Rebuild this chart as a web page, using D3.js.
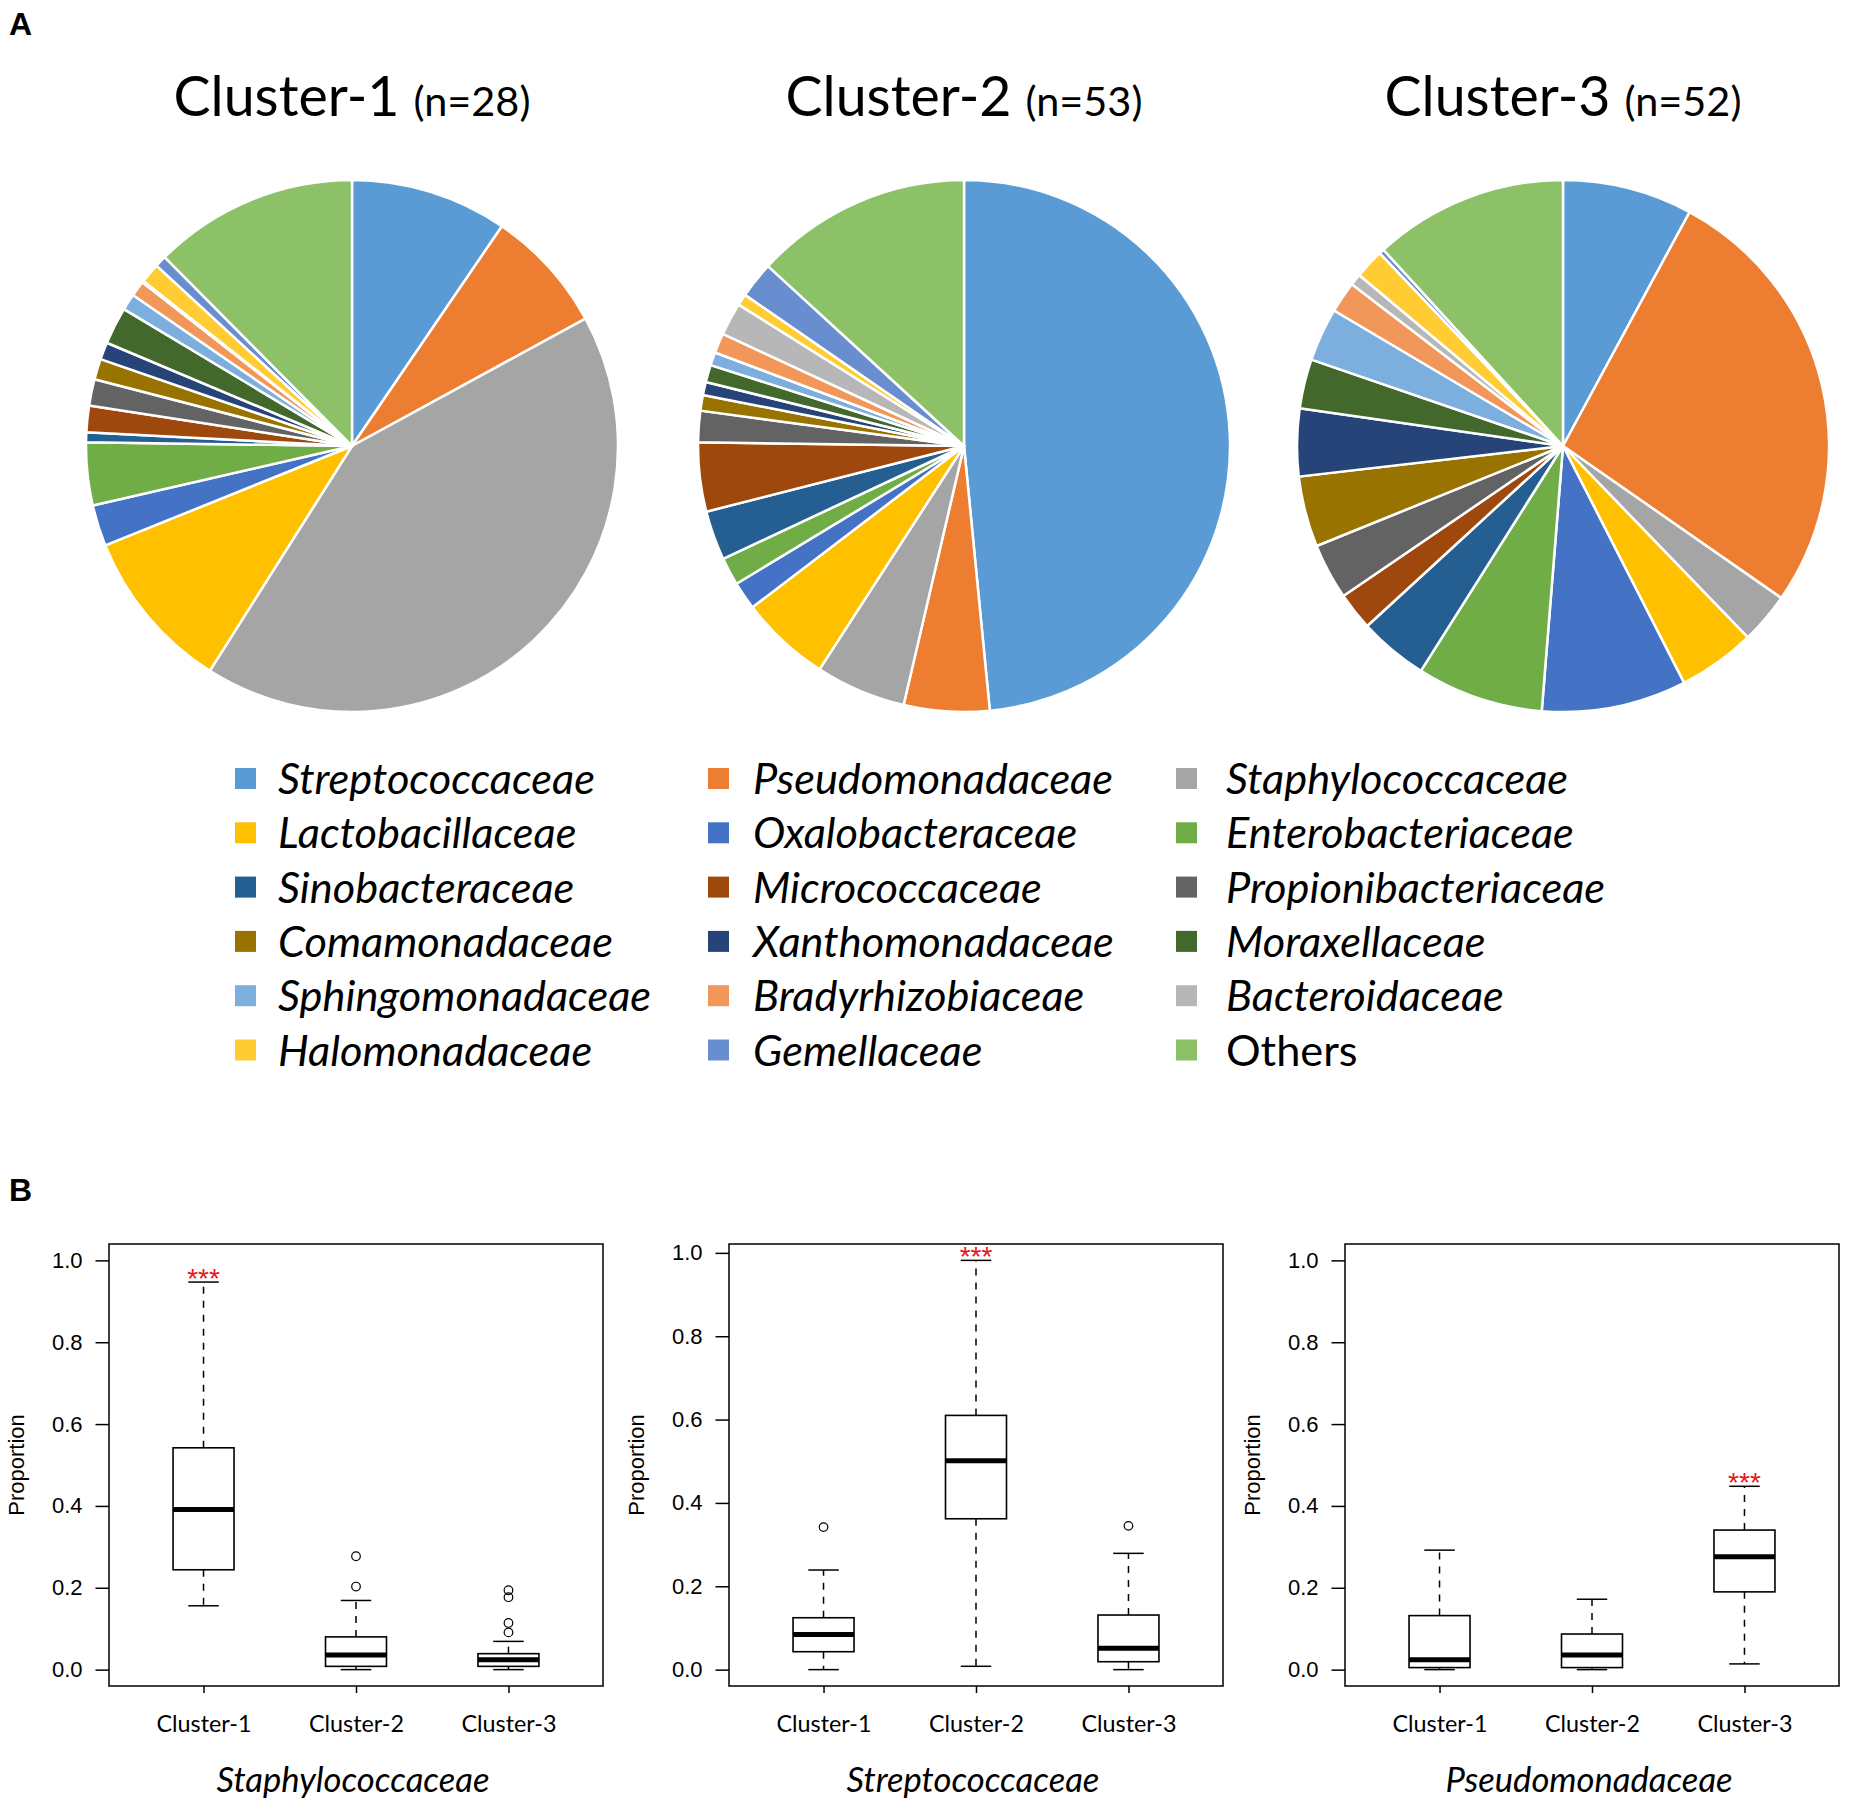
<!DOCTYPE html>
<html>
<head>
<meta charset="utf-8">
<script src="https://cdn.jsdelivr.net/npm/d3@7"></script>
<style>
  body { margin: 0; background: #fff; }
  svg { display: block; }
</style>
</head>
<body>
<svg id="fig" width="1850" height="1811"></svg>
<script>
// ---- data -------------------------------------------------------------
const families = [
  'Streptococcaceae', 'Pseudomonadaceae', 'Staphylococcaceae',
  'Lactobacillaceae', 'Oxalobacteraceae', 'Enterobacteriaceae',
  'Sinobacteraceae', 'Micrococcaceae', 'Propionibacteriaceae',
  'Comamonadaceae', 'Xanthomonadaceae', 'Moraxellaceae',
  'Sphingomonadaceae', 'Bradyrhizobiaceae', 'Bacteroidaceae',
  'Halomonadaceae', 'Gemellaceae', 'Others',
];

const familyColors = [
  '#5b9bd5', '#ed7d31', '#a5a5a5', '#ffc000', '#4472c4', '#70ad47',
  '#255e91', '#9e480e', '#636363', '#997300', '#264478', '#43682b',
  '#7cafdd', '#f1975a', '#b7b7b7', '#ffcd33', '#698ed0', '#8cc168',
];

const clusterNames = ['Cluster-1', 'Cluster-2', 'Cluster-3'];
const clusterN = [28, 53, 52];

// percent of reads per family, same order as `families`
const cluster1Share = [9.5, 7.5, 41.8, 9.9, 2.5, 3.8, 0.6, 1.6, 1.6, 1.25, 1.05, 2.25, 1.0, 0.95, 0.1, 1.2, 0.7, 12.4];
const cluster2Share = [48.5, 5.2, 5.5, 5.5, 1.7, 1.7, 3.0, 4.2, 1.9, 0.95, 0.8, 1.05, 0.8, 1.2, 2.0, 0.7, 2.2, 13.2];
const cluster3Share = [7.9, 26.8, 3.1, 4.7, 8.8, 7.7, 4.2, 2.3, 3.4, 4.3, 4.1, 3.0, 3.25, 1.9, 0.7, 1.8, 0.3, 11.8];

// boxplot stats per cluster: [lower whisker, Q1, median, Q3, upper whisker]
const staphStats = [[0.156, 0.244, 0.391, 0.542, 0.947], [0, 0.008, 0.036, 0.080, 0.169], [0, 0.008, 0.024, 0.039, 0.069]];
const staphOutliers = [[], [0.203, 0.277], [0.091, 0.114, 0.177, 0.194]];
const strepStats = [[0, 0.043, 0.084, 0.1245, 0.239], [0.008, 0.362, 0.501, 0.610, 0.982], [0, 0.019, 0.051, 0.131, 0.279]];
const strepOutliers = [[0.342], [], [0.345]];
const pseudoStats = [[0, 0.005, 0.024, 0.132, 0.292], [0, 0.005, 0.036, 0.087, 0.172], [0.014, 0.190, 0.276, 0.341, 0.448]];
const pseudoOutliers = [[], [], []];

const panelTitles = ['Staphylococcaceae', 'Streptococcaceae', 'Pseudomonadaceae'];
const panelYLimits = [[0, 1], [0, 0.982], [0, 1]];
const panelStarGroup = [0, 1, 2];
const yTicks = [0, 0.2, 0.4, 0.6, 0.8, 1.0];

// ---- layout -----------------------------------------------------------
const SANS = "Lato, 'Open Sans', sans-serif";
const ARIAL = "'Liberation Sans', Arial, sans-serif";

const svg = d3.select('#fig');

const PIE = { cx: [352, 964, 1563], cy: 446, r: 266, titleY: 116 };
const LEGEND = { markX: [235, 708, 1176], textX: [278, 753, 1226], y0: 778.5, dy: 54.3, mark: 21 };
const BOX = { left: [109, 729, 1345], width: 494, top: 1244, bottom: 1686 };

// font size that makes `str` span `target` px
function fitSize(str, target, family, style) {
  const t = svg.append('text')
    .attr('font-family', family)
    .attr('font-style', style || 'normal')
    .attr('font-size', 100)
    .text(str);
  const w = t.node().getComputedTextLength();
  t.remove();
  return 100 * target / w;
}

const titleSize = fitSize('Cluster-1', 226, SANS);
const nSize = fitSize('(n=28)', 117, SANS);
const legendSize = fitSize('Streptococcaceae', 317, SANS, 'italic');
const groupSize = fitSize('Cluster-1', 95, SANS);
const panelTitleSize = fitSize('Staphylococcaceae', 273, SANS, 'italic');

// panel letters
svg.append('text').attr('x', 9).attr('y', 35)
  .attr('font-family', ARIAL).attr('font-weight', 'bold').attr('font-size', 32).text('A');
svg.append('text').attr('x', 9).attr('y', 1201)
  .attr('font-family', ARIAL).attr('font-weight', 'bold').attr('font-size', 32).text('B');

// ---- A: pies ----------------------------------------------------------
const pie = d3.pie().sort(null).value((d) => d);
const arc = d3.arc().innerRadius(0).outerRadius(PIE.r);

[cluster1Share, cluster2Share, cluster3Share].forEach((shares, i) => {
  const g = svg.append('g').attr('transform', `translate(${PIE.cx[i]},${PIE.cy})`);

  g.selectAll('path')
    .data(pie(shares))
    .join('path')
    .attr('d', arc)
    .attr('fill', (d, j) => familyColors[j])
    .attr('stroke', '#fff')
    .attr('stroke-width', 2.5)
    .attr('stroke-linejoin', 'round');

  const title = svg.append('text')
    .attr('x', PIE.cx[i])
    .attr('y', PIE.titleY)
    .attr('text-anchor', 'middle')
    .attr('font-family', SANS)
    .attr('fill', '#000');
  title.append('tspan').attr('font-size', titleSize).text(clusterNames[i]);
  title.append('tspan').attr('font-size', nSize).attr('dx', 14).text(`(n=${clusterN[i]})`);
});

// legend, filled row by row
const legend = svg.append('g')
  .selectAll('g')
  .data(families)
  .join('g')
  .attr('transform', (d, i) => `translate(0,${LEGEND.y0 + Math.floor(i / 3) * LEGEND.dy})`);

legend.append('rect')
  .attr('x', (d, i) => LEGEND.markX[i % 3])
  .attr('y', -LEGEND.mark / 2)
  .attr('width', LEGEND.mark)
  .attr('height', LEGEND.mark)
  .attr('fill', (d, i) => familyColors[i]);

legend.append('text')
  .attr('x', (d, i) => LEGEND.textX[i % 3])
  .attr('y', 15.5)
  .attr('font-family', SANS)
  .attr('font-size', legendSize)
  .attr('font-style', (d) => (d === 'Others' ? 'normal' : 'italic'))
  .attr('fill', '#000')
  .text((d) => d);

// ---- B: boxplots ------------------------------------------------------
const panelStats = [staphStats, strepStats, pseudoStats];
const panelOutliers = [staphOutliers, strepOutliers, pseudoOutliers];

panelStats.forEach((stats, p) => {
  const left = BOX.left[p];
  const [lo, hi] = panelYLimits[p];
  const pad = (hi - lo) * 0.04;

  const x = d3.scaleLinear().domain([0.38, 3.62]).range([left, left + BOX.width]);
  const y = d3.scaleLinear().domain([lo - pad, hi + pad]).range([BOX.bottom, BOX.top]);
  const boxW = x(1.4) - x(1);
  const capW = boxW / 2;

  const g = svg.append('g');

  // y axis
  const yAxis = g.append('g')
    .attr('transform', `translate(${left},0)`)
    .call(d3.axisLeft(y).tickValues(yTicks).tickFormat(d3.format('.1f')).tickSize(13.5).tickPadding(13));
  yAxis.select('.domain').remove();
  yAxis.selectAll('line').attr('stroke', '#000').attr('stroke-width', 1.5);
  yAxis.selectAll('text')
    .attr('font-family', ARIAL)
    .attr('font-size', 22)
    .attr('fill', '#000');

  // x axis
  const xAxis = g.append('g')
    .attr('transform', `translate(0,${BOX.bottom})`)
    .call(d3.axisBottom(x).tickValues([1, 2, 3]).tickFormat((d) => clusterNames[d - 1]).tickSize(7));
  xAxis.select('.domain').remove();
  xAxis.selectAll('line').attr('stroke', '#000').attr('stroke-width', 1.5);
  xAxis.selectAll('text')
    .attr('y', 46)
    .attr('dy', 0)
    .attr('font-family', SANS)
    .attr('font-size', groupSize)
    .attr('fill', '#000');

  // frame
  g.append('rect')
    .attr('x', left)
    .attr('y', BOX.top)
    .attr('width', BOX.width)
    .attr('height', BOX.bottom - BOX.top)
    .attr('fill', 'none')
    .attr('stroke', '#000')
    .attr('stroke-width', 1.5);

  const groups = g.selectAll('.box')
    .data(stats)
    .join('g')
    .attr('class', 'box');

  // whiskers
  groups.append('line')
    .attr('x1', (d, i) => x(i + 1)).attr('x2', (d, i) => x(i + 1))
    .attr('y1', (d) => y(d[3])).attr('y2', (d) => y(d[4]))
    .attr('stroke', '#000').attr('stroke-width', 1.5).attr('stroke-dasharray', '7,7');
  groups.append('line')
    .attr('x1', (d, i) => x(i + 1)).attr('x2', (d, i) => x(i + 1))
    .attr('y1', (d) => y(d[1])).attr('y2', (d) => y(d[0]))
    .attr('stroke', '#000').attr('stroke-width', 1.5).attr('stroke-dasharray', '7,7');

  // staples
  [0, 4].forEach((k) => {
    groups.append('line')
      .attr('x1', (d, i) => x(i + 1) - capW / 2).attr('x2', (d, i) => x(i + 1) + capW / 2)
      .attr('y1', (d) => y(d[k])).attr('y2', (d) => y(d[k]))
      .attr('stroke', '#000').attr('stroke-width', 1.5);
  });

  // box and median
  groups.append('rect')
    .attr('x', (d, i) => x(i + 1) - boxW / 2)
    .attr('y', (d) => y(d[3]))
    .attr('width', boxW)
    .attr('height', (d) => y(d[1]) - y(d[3]))
    .attr('fill', '#fff')
    .attr('stroke', '#000')
    .attr('stroke-width', 1.6);
  groups.append('line')
    .attr('x1', (d, i) => x(i + 1) - boxW / 2).attr('x2', (d, i) => x(i + 1) + boxW / 2)
    .attr('y1', (d) => y(d[2])).attr('y2', (d) => y(d[2]))
    .attr('stroke', '#000').attr('stroke-width', 5);

  // outliers
  groups.each(function (d, i) {
    d3.select(this).selectAll('circle')
      .data(panelOutliers[p][i])
      .join('circle')
      .attr('cx', x(i + 1))
      .attr('cy', (v) => y(v))
      .attr('r', 4.3)
      .attr('fill', 'none')
      .attr('stroke', '#000')
      .attr('stroke-width', 1.2);
  });

  // significance mark
  const s = panelStarGroup[p];
  g.append('text')
    .attr('x', x(s + 1))
    .attr('y', y(stats[s][4]) + 6)
    .attr('text-anchor', 'middle')
    .attr('font-family', ARIAL)
    .attr('font-size', 28)
    .attr('fill', '#e8141c')
    .text('***');

  // y label
  g.append('text')
    .attr('transform', `translate(${left - 85},${(BOX.top + BOX.bottom) / 2}) rotate(-90)`)
    .attr('text-anchor', 'middle')
    .attr('font-family', ARIAL)
    .attr('font-size', 22)
    .attr('fill', '#000')
    .text('Proportion');

  // family name under the panel
  g.append('text')
    .attr('x', left + BOX.width / 2 - 3)
    .attr('y', 1792)
    .attr('text-anchor', 'middle')
    .attr('font-family', SANS)
    .attr('font-style', 'italic')
    .attr('font-size', panelTitleSize)
    .attr('fill', '#000')
    .text(panelTitles[p]);
});
</script>
</body>
</html>
